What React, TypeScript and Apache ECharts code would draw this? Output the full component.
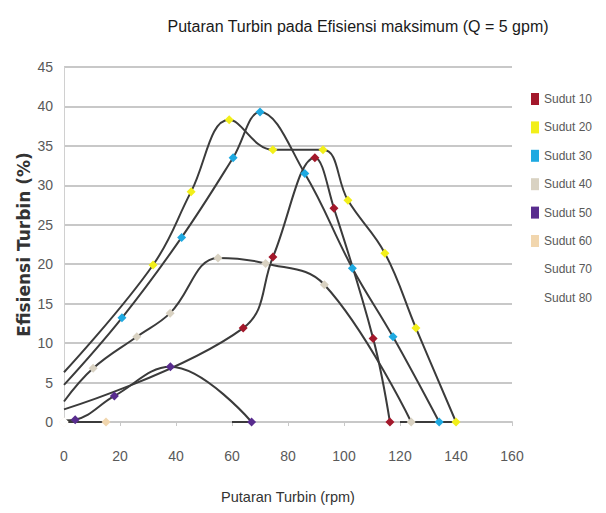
import React, { useEffect, useRef } from "react";
import * as echarts from "echarts";

const TITLE = "Putaran Turbin pada Efisiensi maksimum (Q = 5 gpm)";
const X_NAME = "Putaran Turbin (rpm)";
const Y_NAME = "Efisiensi Turbin (%)";

const seriesNames = ["Sudut 10", "Sudut 20", "Sudut 30", "Sudut 40", "Sudut 50", "Sudut 60", "Sudut 70", "Sudut 80"];
const seriesColors = ["#a3182b", "#f2ef1a", "#1ea9e1", "#d9d2c2", "#582c8e", "#f1d6ae", "#ffffff", "#ffffff"];

// [rpm, efficiency]; indices listed in *Hidden are curve-only points (no marker)
const sudut10: number[][] = [[0, 1.6], [64, 11.9], [74.6, 20.9], [89.6, 33.5], [96.4, 27.1], [110.4, 10.6], [116.4, 0]];
const sudut10Hidden = [0];
const sudut20: number[][] = [[0, 6.3], [31.8, 19.9], [45.4, 29.2], [59, 38.3], [74.6, 34.5], [92.5, 34.5], [101.4, 28.1], [114.6, 21.4], [125.7, 11.9], [140, 0], [134, 0]];
const sudut20Hidden = [0, 10];
const sudut30: number[][] = [[0, 4.7], [20.7, 13.2], [42, 23.4], [60.4, 33.5], [70, 39.3], [86, 31.5], [103, 19.5], [117.5, 10.8], [134, 0], [124, 0]];
const sudut30Hidden = [0, 9];
const sudut40: number[][] = [[0, 2.6], [10.4, 6.8], [26, 10.8], [37.9, 13.8], [55, 20.8], [72, 20.1], [93, 17.4], [124, 0], [120, 0]];
const sudut40Hidden = [0, 8];
const sudut50: number[][] = [[0, 0.2], [4, 0.3], [18, 3.3], [38, 7], [67, 0], [60, 0]];
const sudut50Hidden = [0, 5];
const sudut60: number[][] = [[0, 0], [15, 0]];
const sudut60Hidden: number[] = [];
const sudut70: number[][] = [[0, 0]];
const sudut80: number[][] = [[0, 0]];

const allData = [sudut10, sudut20, sudut30, sudut40, sudut50, sudut60, sudut70, sudut80];
const allHidden = [sudut10Hidden, sudut20Hidden, sudut30Hidden, sudut40Hidden, sudut50Hidden, sudut60Hidden, [], []];

const FONT = "'Liberation Sans', Arial, sans-serif";

export default function App() {
  const ref = useRef<HTMLDivElement>(null);
  useEffect(() => {
    if (!ref.current) return;
    const chart = echarts.init(ref.current, undefined, { renderer: "svg" });
    const series = allData.map((pts, i) => ({
      name: seriesNames[i],
      type: "line",
      smooth: 0.4,
      symbol: "diamond",
      symbolSize: 9,
      clip: true,
      itemStyle: { color: seriesColors[i], borderWidth: 0 },
      lineStyle: { color: i >= 6 ? "rgba(0,0,0,0)" : "#3b3b3b", width: 2 },
      data: pts.map((p, j) =>
        allHidden[i].indexOf(j) >= 0 ? { value: p, symbol: "none" } : { value: p }
      ),
      z: 2,
    }));
    chart.setOption({
      animation: false,
      backgroundColor: "#ffffff",
      title: {
        text: TITLE,
        left: 353,
        top: 13,
        textAlign: "center",
        textStyle: { fontFamily: FONT, fontSize: 16, fontWeight: "normal", color: "#1a1a1a" },
      },
      legend: {
        orient: "vertical",
        left: 526,
        top: 88,
        icon: "rect",
        itemWidth: 8,
        itemHeight: 12,
        itemGap: 16.4,
        data: seriesNames,
        textStyle: { fontFamily: FONT, fontSize: 12, color: "#595959" },
        itemStyle: { borderWidth: 0 },
      },
      grid: { left: 64, top: 67, width: 448, height: 355, containLabel: false },
      xAxis: {
        type: "value",
        min: 0,
        max: 160,
        interval: 20,
        name: X_NAME,
        nameLocation: "middle",
        nameGap: 67,
        nameMoveOverlap: false,
        nameTextStyle: { fontFamily: FONT, fontSize: 14.5, color: "#333333" },
        axisLine: { show: true, lineStyle: { color: "#c8c8c8", width: 2 } },
        axisTick: { show: true, length: 4, lineStyle: { color: "#c8c8c8" } },
        axisLabel: { margin: 27, fontFamily: FONT, fontSize: 14, color: "#595959" },
        splitLine: { show: false },
      },
      yAxis: {
        type: "value",
        min: 0,
        max: 45,
        interval: 5,
        name: Y_NAME,
        nameLocation: "middle",
        nameGap: 32,
        nameMoveOverlap: false,
        nameTextStyle: { fontFamily: "'DejaVu Sans', sans-serif", fontSize: 17, fontWeight: "bold", color: "#333333" },
        axisLine: { show: true, lineStyle: { color: "#d0d0d0", width: 1 } },
        axisTick: { show: false },
        axisLabel: { margin: 11, fontFamily: FONT, fontSize: 14, color: "#595959" },
        splitLine: { show: true, lineStyle: { color: "#c8c8c8", width: 2 } },
      },
      series,
    });
    return () => chart.dispose();
  }, []);
  return <div ref={ref} style={{ position: "absolute", left: 0, top: 0, width: 606, height: 513 }} />;
}
